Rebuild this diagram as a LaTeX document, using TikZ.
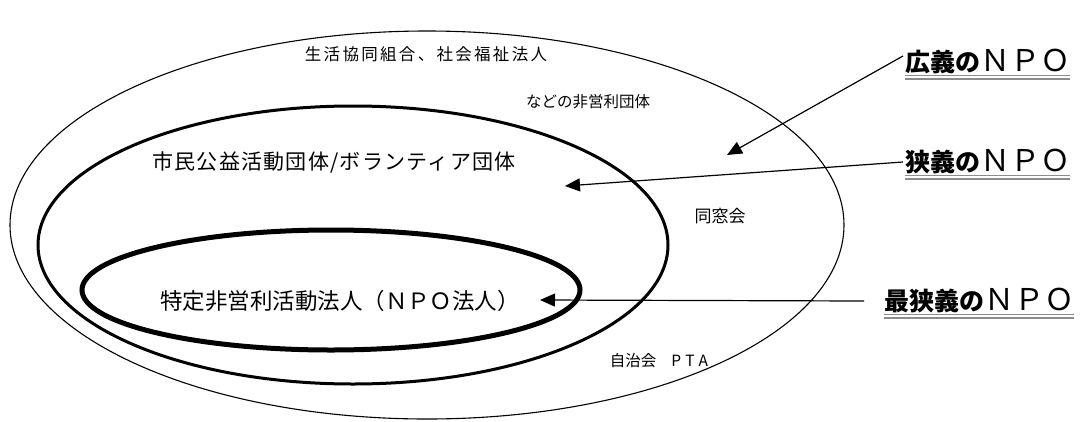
\documentclass[tikz,border=0pt]{standalone}
\usepackage{fontspec}
\setmainfont{Noto Sans CJK JP}
\usetikzlibrary{arrows.meta}
\begin{document}
\begin{tikzpicture}[x=1pt,y=-1pt,
  lbl/.style={inner sep=0pt,font=\fontsize{17}{17}\selectfont},
  big/.style={inner sep=0pt,anchor=west,font=\fontsize{25}{25}\selectfont},
  arr/.style={line width=1.2pt,-{Triangle[length=15pt,width=13pt]}},
  ul/.style={line width=1.5pt,draw=black!45}]
\useasboundingbox (0,0) rectangle (1085,421);
\fill[white] (0,0) rectangle (1085,421);
% ellipses
\draw[line width=1.1pt] (427,225) ellipse [x radius=417, y radius=194];
\draw[line width=3pt] (353,245) ellipse [x radius=315, y radius=139];
\draw[line width=5pt] (331,290) ellipse [x radius=249, y radius=60];
% texts
\node[lbl,font=\fontsize{16.5}{16.5}\selectfont\addfontfeature{LetterSpace=14}] (t1) at (426,54) {生活協同組合、社会福祉法人};
\node[lbl,font=\fontsize{15.5}{15.5}\selectfont] (t2) at (588,102) {などの非営利団体};
\node[lbl,font=\fontsize{21}{21}\selectfont\addfontfeature{LetterSpace=6}] (t3) at (334,163) {市民公益活動団体/ボランティア団体};
\node[lbl] (t4) at (720,216) {同窓会};
\node[lbl,font=\fontsize{22.5}{22.5}\selectfont] (t5) at (340,301) {特定非営利活動法人（ＮＰＯ法人）};
\node[lbl,font=\fontsize{15.5}{15.5}\selectfont] (t6) at (659,361) {自治会\hspace{15pt}P\hspace{4pt}T\hspace{4pt}A};
% right labels
\node[big] (r1) at (905,62) {\textbf{広義の}{\fontsize{30}{30}\selectfont ＮＰＯ}};
\node[big] (r2) at (905,162) {\textbf{狭義の}{\fontsize{30}{30}\selectfont ＮＰＯ}};
\node[big] (r3) at (884,301) {\textbf{最狭義の}{\fontsize{30}{30}\selectfont ＮＰＯ}};
\foreach \n in {r1,r2,r3}{
  \draw[ul] ([yshift=-1pt]\n.south west) -- ([yshift=-1pt]\n.south east);
  \draw[ul] ([yshift=-4.5pt]\n.south west) -- ([yshift=-4.5pt]\n.south east);
}
% arrows
\coordinate (a1) at (727,155);
\coordinate (a2) at (565,186);
\coordinate (a3) at (540,300);
\draw[arr] ([xshift=-2pt,yshift=6pt]r1.west) -- (a1);
\draw[arr] ([xshift=-2pt]r2.west) -- (a2);
\draw[arr] ([xshift=-20pt]r3.west) -- (a3);
\end{tikzpicture}
\end{document}
